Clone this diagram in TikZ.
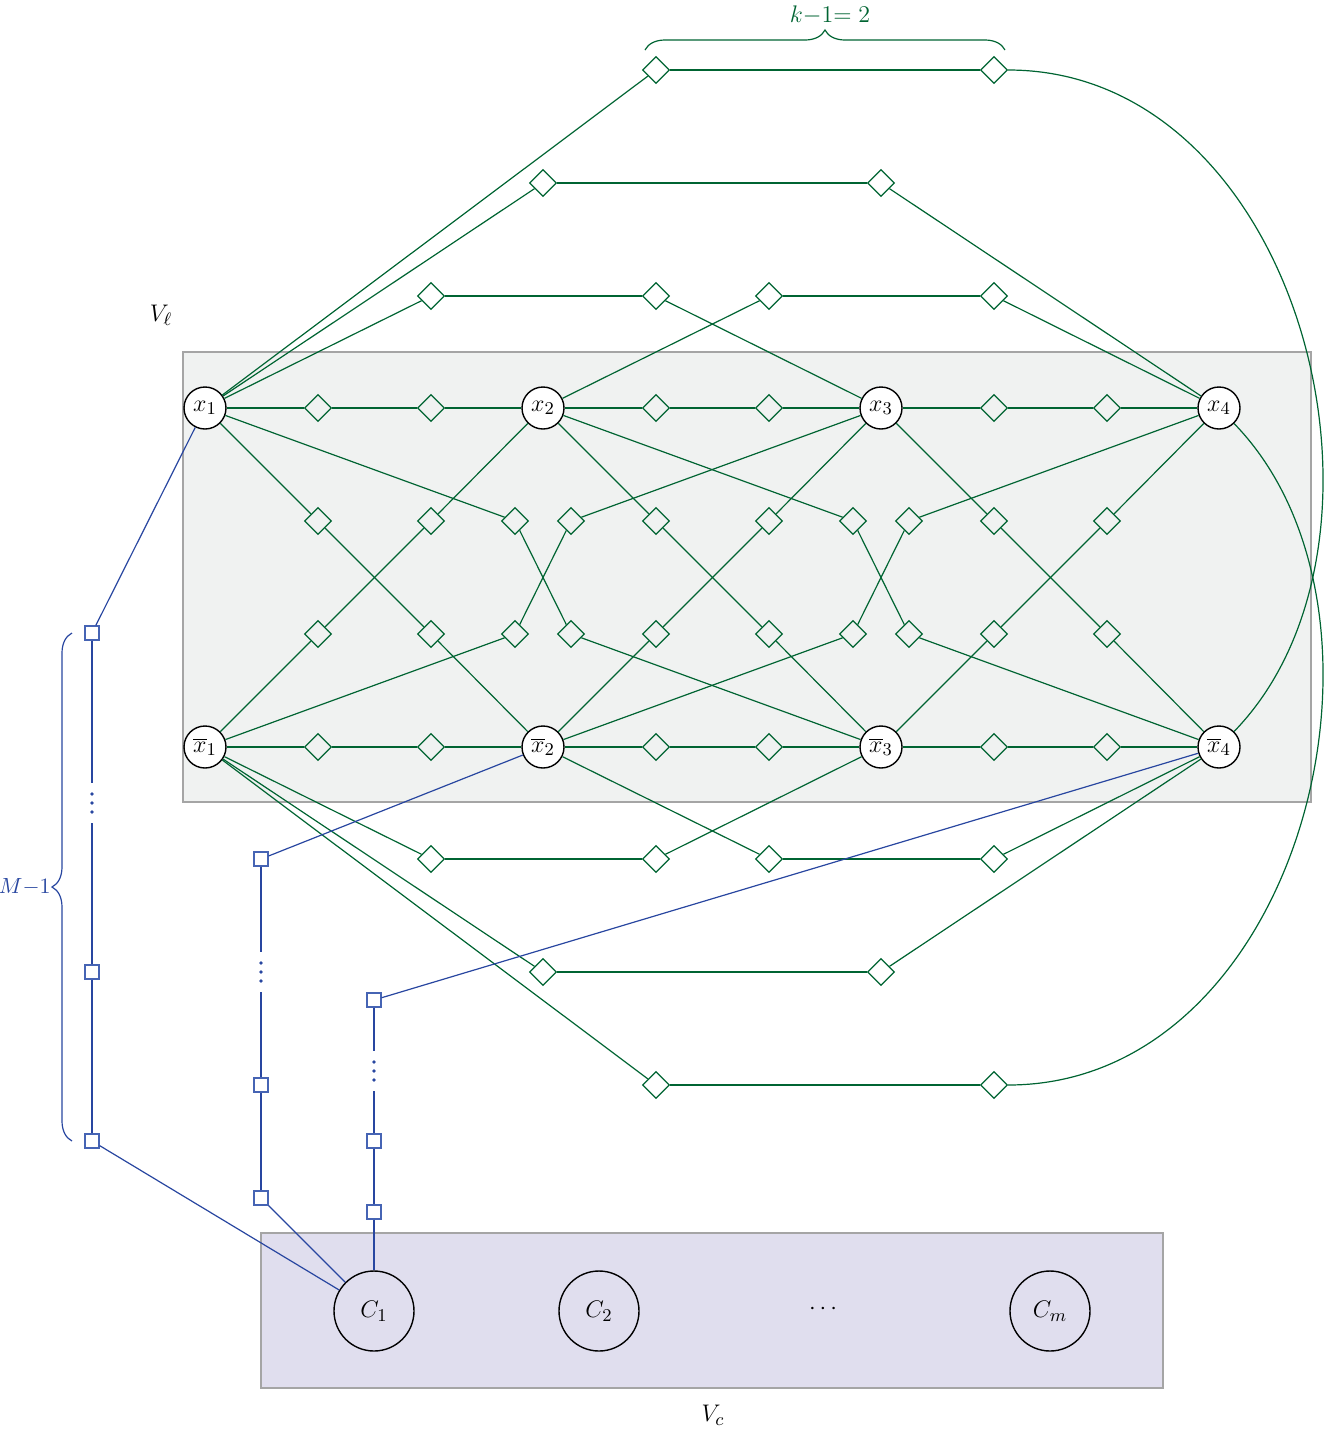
\documentclass[tikz,border=0pt]{standalone}
\usetikzlibrary{shapes.geometric,decorations.pathreplacing}
\definecolor{grn}{RGB}{0,100,50}
\definecolor{blu}{RGB}{40,70,160}
\definecolor{sqblu}{RGB}{70,100,180}
\definecolor{bgl}{RGB}{240,242,241}
\definecolor{bgc}{RGB}{224,222,238}
\definecolor{rim}{RGB}{165,165,165}
\begin{document}
\begin{tikzpicture}[x=0.5pt, y=-0.5pt,
			every node/.style = {font=\fontsize{12.5}{15}\selectfont},
			var/.style = {shape=circle, draw, fill=white, line width=0.7pt, minimum size=21pt, inner sep=0pt},
			cls/.style = {shape=circle, draw, line width=0.7pt, minimum size=40pt, inner sep=0pt},
			dia/.style = {shape=diamond, draw=grn, line width=0.6pt, minimum size=13.5pt, inner sep=0pt},
			sq/.style = {shape=rectangle, draw=sqblu, fill=white, line width=0.6pt, minimum size=7pt, inner sep=0pt},
			gap/.style = {minimum height=20pt, minimum width=2pt, inner sep=0pt},
			lit/.style = {grn, line width=0.6pt},
			chain/.style = {grn, line width=1.3pt},
			wire/.style = {blu, line width=0.6pt},
			bus/.style = {blu, line width=1.2pt}]
			
			\useasboundingbox (0,0) rectangle (1330,1431);
			\draw[rim, fill=bgl, line width=0.6pt] (183,352) rectangle (1311,802);
			\draw[rim, fill=bgc, line width=0.6pt] (261,1233) rectangle (1163,1388);
			
			\foreach \i in {1,...,4} {
				\node[var] (x\i) at ({205+338*(\i-1)},408) {$x_{\i}$};
				\node[var] (nx\i) at ({205+338*(\i-1)},747) {$\overline{x}_{\i}$};
			}
			\foreach \i [evaluate=\i as \xa using 205+338*(\i-1)] in {1,2,3} {
				\node[dia] (ha\i) at (\xa+113,408) {};
				\node[dia] (hb\i) at (\xa+226,408) {};
				\node[dia] (ga\i) at (\xa+113,747) {};
				\node[dia] (gb\i) at (\xa+226,747) {};
				\node[dia] (ca\i) at (\xa+113,521) {};
				\node[dia] (cb\i) at (\xa+226,634) {};
				\node[dia] (da\i) at (\xa+113,634) {};
				\node[dia] (db\i) at (\xa+226,521) {};
			}
			\foreach \i [evaluate=\i as \xa using 205+338*(\i-1)] in {1,2} {
				\node[dia] (ea\i) at (\xa+310,521) {};
				\node[dia] (eb\i) at (\xa+366,634) {};
				\node[dia] (fa\i) at (\xa+310,634) {};
				\node[dia] (fb\i) at (\xa+366,521) {};
			}
			\foreach \n/\xa/\xb/\y in {1/431/656/296, 2/769/994/296, 3/543/881/183, 4/656/994/70} {
				\node[dia] (ta\n) at (\xa,\y) {};
				\node[dia] (tb\n) at (\xb,\y) {};
				\node[dia] (ba\n) at (\xa,1155-\y) {};
				\node[dia] (bb\n) at (\xb,1155-\y) {};
			}
			
			\foreach \i [evaluate=\i as \j using int(\i+1)] in {1,2,3} {
				\draw[chain] (x\i) -- (ha\i) -- (hb\i) -- (x\j);
				\draw[chain] (nx\i) -- (ga\i) -- (gb\i) -- (nx\j);
				\draw[lit] (x\i) -- (ca\i) -- (cb\i) -- (nx\j);
				\draw[lit] (nx\i) -- (da\i) -- (db\i) -- (x\j);
			}
			\foreach \i [evaluate=\i as \j using int(\i+2)] in {1,2} {
				\draw[lit] (x\i) -- (ea\i) -- (eb\i) -- (nx\j);
				\draw[lit] (nx\i) -- (fa\i) -- (fb\i) -- (x\j);
			}
			\foreach \n/\u/\v in {1/1/3, 2/2/4, 3/1/4} {
				\draw[lit] (x\u) -- (ta\n);
				\draw[chain] (ta\n) -- (tb\n);
				\draw[lit] (tb\n) -- (x\v);
				\draw[lit] (nx\u) -- (ba\n);
				\draw[chain] (ba\n) -- (bb\n);
				\draw[lit] (bb\n) -- (nx\v);
			}
			\draw[lit] (x1) -- (ta4);
			\draw[chain] (ta4) -- (tb4);
			\draw[lit] (tb4) .. controls (1300,70) and (1420,540) .. (nx4);
			\draw[lit] (nx1) -- (ba4);
			\draw[chain] (ba4) -- (bb4);
			\draw[lit] (bb4) .. controls (1300,1085) and (1420,615) .. (x4);
			
			\node[sq] (s1) at (92,633) {};
			\node[gap] (v1) at (92,803) {};
			\node[sq] (s2) at (92,972) {};
			\node[sq] (s3) at (92,1141) {};
			\node[sq] (s4) at (261,859) {};
			\node[gap] (v2) at (261,972) {};
			\node[sq] (s5) at (261,1085) {};
			\node[sq] (s6) at (261,1198) {};
			\node[sq] (s7) at (374,1000) {};
			\node[gap] (v3) at (374,1071) {};
			\node[sq] (s8) at (374,1141) {};
			\node[sq] (s9) at (374,1212) {};
			\foreach \v in {v1,v2,v3}
				\foreach \d in {-9,0,9}
					\fill[blu] (\v) ++(0,\d) circle[radius=0.9pt];
			
			\node[cls] (c1) at (374,1311) {$C_1$};
			\node[cls] (c2) at (599,1311) {$C_2$};
			\node (cdots) at (823,1309) {$\cdots$};
			\node[cls] (cm) at (1050,1311) {$C_m$};
			
			\draw[wire] (x1) -- (s1);
			\draw[bus] (s1) -- (v1) -- (s2) -- (s3);
			\draw[wire] (s3) -- (c1);
			\draw[wire] (nx2) -- (s4);
			\draw[bus] (s4) -- (v2) -- (s5) -- (s6);
			\draw[wire] (s6) -- (c1);
			\draw[wire] (nx4) -- (s7);
			\draw[bus] (s7) -- (v3) -- (s8) -- (s9) -- (c1);
			
			\draw[grn, line width=0.6pt, decorate, decoration={brace, amplitude=10pt}] (645,50) -- (1005,50);
			\node[grn] (klab) at (830,15) {$k{-}1{=}\;2$};
			\draw[blu, line width=0.6pt, decorate, decoration={brace, amplitude=10pt}] (72,1141) -- (72,633);
			\node[blu, anchor=east, inner sep=0pt, font=\fontsize{10.5}{13}\selectfont] (mlab) at (51,887) {$M{-}1$};
			\node (vl) at (161,315) {$V_\ell$};
			\node (vc) at (713,1415) {$V_c$};
\end{tikzpicture}
\end{document}
